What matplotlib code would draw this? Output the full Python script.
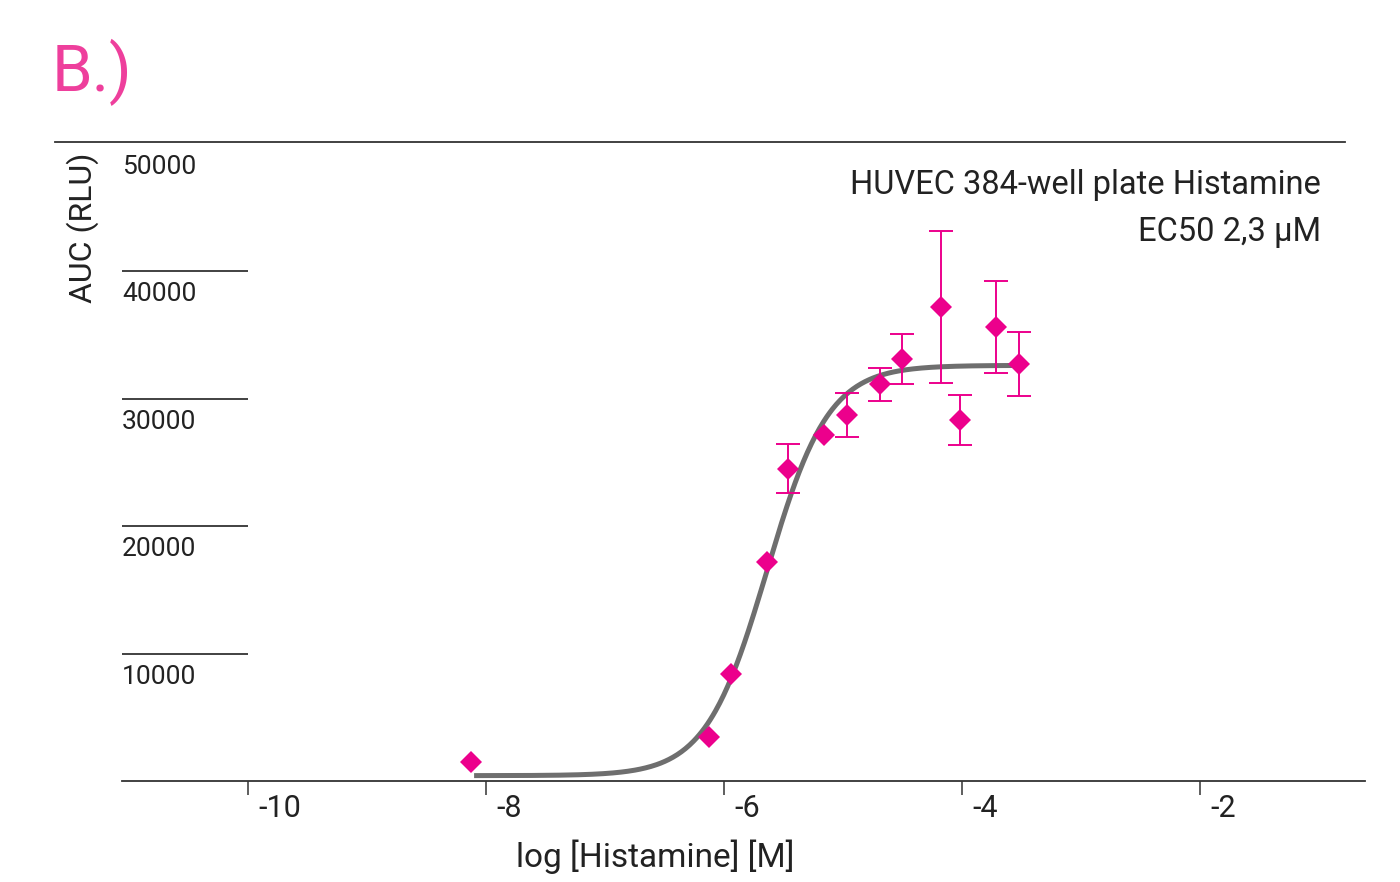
import numpy as np
import matplotlib
matplotlib.use("Agg")
import matplotlib.pyplot as plt
from matplotlib.lines import Line2D
import matplotlib.transforms as mtransforms

plt.rcParams['font.family'] = ['Roboto', 'DejaVu Sans']

# Histamine concentration (log M) and AUC responses (RLU) with error
log_conc = [-8.13, -6.13, -5.94, -5.64, -5.46, -5.16, -4.97, -4.69, -4.50, -4.18, -4.02, -3.71, -3.52]
auc = [1500, 3450, 8400, 17200, 24500, 27100, 28700, 31100, 33100, 37200, 28300, 35600, 32700]
auc_err = [0, 0, 0, 0, 1950, 0, 1750, 1300, 1950, 5950, 1950, 3600, 2500]

# Four-parameter logistic fit
fit_bottom = 420
fit_top = 32600
fit_log_ec50 = np.log10(2.3e-6)
fit_hill = 1.68
fit_range = (-8.1, -3.5)

x_ticks = [-10, -8, -6, -4, -2]
x_tick_labels = ["-10", "-8", "-6", "-4", "-2"]
y_ticks = [10000, 20000, 30000, 40000, 50000]
y_tick_labels = ["10000", "20000", "30000", "40000", "50000"]

PINK = "#EC008C"
TITLE_PINK = "#EE3F9C"
GREY = "#6E6E6E"
TEXT = "#222222"
AXIS = "#333333"

W, H = 1400, 882
fig = plt.figure(figsize=(W / 100, H / 100), dpi=100)
ax = fig.add_axes([122 / W, (H - 781) / H, (1365 - 122) / W, (781 - 142) / H])
ax.set_xlim(-11.059, -0.613)
ax.set_ylim(0, 50118)
for s in ["top", "right", "left"]:
    ax.spines[s].set_visible(False)
ax.spines["bottom"].set_color(AXIS)
ax.spines["bottom"].set_linewidth(1.3)
ax.set_yticks([])
ax.set_xticks(x_ticks)
ax.set_xticklabels([])
ax.tick_params(axis="x", direction="out", length=10, width=1.1, color=AXIS)

# short reference lines for the y scale (top one is the figure rule)
ax.hlines(y_ticks[:-1], ax.get_xlim()[0], x_ticks[0], color=AXIS, lw=1.3)

# tick labels
off_x = mtransforms.offset_copy(ax.transData, fig=fig, x=10, y=-13, units="dots")
for xv, lab in zip(x_ticks, x_tick_labels):
    ax.text(xv, 0, lab, transform=off_x, ha="left", va="top", fontsize=22, color=TEXT)
off_y = mtransforms.offset_copy(ax.transData, fig=fig, x=0, y=-11, units="dots")
for yv, lab in zip(y_ticks, y_tick_labels):
    ax.text(ax.get_xlim()[0], yv, lab, transform=off_y, ha="left", va="top", fontsize=19, color=TEXT)

# fitted curve
xf = np.linspace(fit_range[0], fit_range[1], 400)
yf = fit_bottom + (fit_top - fit_bottom) / (1 + 10 ** ((fit_log_ec50 - xf) * fit_hill))
ax.plot(xf, yf, color=GREY, lw=3.6, solid_capstyle="butt", zorder=2)

# data points with error bars
err = [e if e > 0 else np.nan for e in auc_err]
ax.errorbar(log_conc, auc, yerr=err, fmt="none", ecolor=PINK, elinewidth=1.4,
            capsize=8.5, capthick=1.4, zorder=3)
ax.plot(log_conc, auc, "D", color=PINK, markersize=11.5, markeredgewidth=0, zorder=4)

# axis titles and annotation
fig.text(655 / W, 1 - 857 / H, "log [Histamine] [M]", ha="center", va="center", fontsize=24, color=TEXT)
fig.text(83 / W, 1 - 228 / H, "AUC (RLU)", ha="center", va="center", rotation=90, fontsize=23, color=TEXT)
fig.text(1321 / W, 1 - 185 / H, "HUVEC 384-well plate Histamine", ha="right", va="center", fontsize=23.5, color=TEXT)
fig.text(1321 / W, 1 - 232 / H, "EC50 2,3 µM", ha="right", va="center", fontsize=23.5, color=TEXT)

# panel label and top rule
fig.text(52 / W, 1 - 72 / H, "B.)", ha="left", va="center", fontsize=47, color=TITLE_PINK)
fig.add_artist(Line2D([55 / W, 1345 / W], [1 - 142 / H, 1 - 142 / H], color=AXIS, lw=1.3))

fig.savefig("out.png", dpi=100)
